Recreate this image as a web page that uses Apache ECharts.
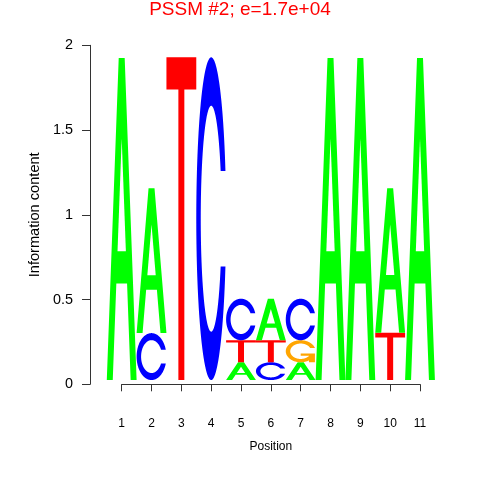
<!DOCTYPE html>
<html><head><meta charset="utf-8">
<script src="https://cdn.jsdelivr.net/npm/echarts@6/dist/echarts.min.js"></script>
<style>html,body{margin:0;padding:0;background:#fff}#c{width:480px;height:480px}</style>
</head><body><div id="c"></div>
<script>
// ---- data ----
const positions = [1, 2, 3, 4, 5, 6, 7, 8, 9, 10, 11];
// letters per position, bottom to top
const letters = [['A'], ['C', 'A'], ['T'], ['C'], ['A', 'T', 'C'], ['C', 'T', 'A'], ['A', 'G', 'C'], ['A'], ['A'], ['T', 'A'], ['A']];
// information content (bits) of each letter, bottom to top
const heights = [[1.90], [0.277, 0.854], [1.904], [1.904], [0.105, 0.13, 0.245], [0.105, 0.13, 0.245], [0.105, 0.13, 0.245], [1.90], [1.90], [0.279, 0.852], [1.90]];
const yTicks = [0, 0.5, 1, 1.5, 2];
const titleText = 'PSSM #2; e=1.7e+04';
const xName = 'Position';
const yName = 'Information content';

// ---- styles ----
const stackBase = 0.025;
const letterColors = { A: '#00FF00', C: '#0000FF', G: '#FFA500', T: '#FF0000' };
const letterCodes = ['A', 'C', 'G', 'T'];
const FONT = 'Liberation Sans, Arial, Helvetica, sans-serif';

// glyph outlines in a unit box (seqLogo style)
function cOutline() {
  const n = 60, a1 = [], a2 = [];
  for (let i = 0; i < n; i++) a1.push(0.3 + Math.PI / 2 + (Math.PI - 0.3 - Math.PI / 2) * i / (n - 1));
  for (let i = 0; i < n; i++) a2.push(Math.PI + (Math.PI / 2) * i / (n - 1));
  const xl = [], yl = [];
  a1.concat(a2).forEach(a => { xl.push(0.5 + 0.5 * Math.sin(a)); yl.push(0.5 + 0.5 * Math.cos(a)); });
  const maxYl1 = 0.5 + 0.5 * Math.cos(a1[0]);
  const xo = xl.concat(xl.slice().reverse());
  const yo = yl.concat(yl.slice().reverse().map(v => 1 - v));
  let xi1 = [], yi1 = [];
  a1.forEach(a => { const y = 0.5 + 0.35 * Math.cos(a); if (y <= maxYl1) { xi1.push(0.5 + 0.35 * Math.sin(a)); yi1.push(y); } });
  const cosv = (maxYl1 - 0.5) / 0.35;
  const aStart = Math.acos(cosv);
  xi1.unshift(0.5 + 0.35 * Math.sin(aStart)); yi1.unshift(maxYl1);
  const xi2 = [], yi2 = [];
  a2.forEach(a => { xi2.push(0.5 + 0.35 * Math.sin(a)); yi2.push(0.5 + 0.35 * Math.cos(a)); });
  const xi = xi1.concat(xi2), yi = yi1.concat(yi2);
  const x1 = xi.concat(xi.slice().reverse());
  const y1 = yi.concat(yi.slice().reverse().map(v => 1 - v));
  const xs = xo.concat(x1.slice().reverse());
  const ys = yo.concat(y1.slice().reverse());
  return { pts: xs.map((x, i) => [x, ys[i]]), r1: Math.max.apply(null, xl.slice(0, n)) };
}
const C_SHAPE = cOutline();
const GLYPHS = {
  A: [
    { pts: [[0, 0], [0.4, 1], [0.6, 1], [1, 0], [0.8, 0], [0.68, 0.3], [0.32, 0.3], [0.2, 0]], white: false },
    { pts: [[0.36, 0.4], [0.5, 0.75], [0.64, 0.4]], white: true }
  ],
  T: [{ pts: [[0, 1], [1, 1], [1, 0.9], [0.6, 0.9], [0.6, 0], [0.4, 0], [0.4, 0.9], [0, 0.9]], white: false }],
  C: [{ pts: C_SHAPE.pts, white: false }],
  G: [
    { pts: C_SHAPE.pts, white: false },
    { pts: [[C_SHAPE.r1, 0.4], [0.5, 0.4], [0.5, 0.3], [C_SHAPE.r1 - 0.2, 0.3], [C_SHAPE.r1 - 0.2, 0], [C_SHAPE.r1, 0]], white: false }
  ]
};

// build letter records [pos, y0, y1, letterIndex]
const letterData = [];
positions.forEach((p, i) => {
  let y = stackBase;
  letters[i].forEach((L, j) => {
    const h = heights[i][j];
    letterData.push([p, y, y + h, letterCodes.indexOf(L)]);
    y += h;
  });
});

const chart = echarts.init(document.getElementById('c'), null, { renderer: 'canvas' });
chart.setOption({
  animation: false,
  backgroundColor: '#fff',
  title: {
    text: titleText, left: 'center', top: 0, padding: 0,
    textStyle: { color: '#FF0000', fontSize: 19, fontWeight: 'normal', fontFamily: FONT }
  },
  grid: { left: 121.7, right: 60, top: 45.3, bottom: 95.7, containLabel: false },
  xAxis: {
    type: 'value', min: 1, max: 11, interval: 1, offset: 17.4,
    axisLine: { show: true, lineStyle: { color: '#333', width: 1 } },
    axisTick: { show: true, length: 7, lineStyle: { color: '#333' } },
    axisLabel: { fontSize: 12, color: '#000', fontFamily: FONT, margin: 16 },
    splitLine: { show: false },
    name: xName, nameLocation: 'middle', nameGap: 39,
    nameTextStyle: { fontSize: 12, color: '#000', fontFamily: FONT }
  },
  yAxis: {
    type: 'value', min: yTicks[0], max: yTicks[yTicks.length - 1], interval: yTicks[1] - yTicks[0], offset: 31.7,
    axisLine: { show: true, lineStyle: { color: '#333', width: 1 } },
    axisTick: { show: true, length: 8, lineStyle: { color: '#333' } },
    axisLabel: { fontSize: 14.4, color: '#000', fontFamily: FONT, margin: 17 },
    splitLine: { show: false },
    name: yName, nameLocation: 'middle', nameGap: 39,
    nameTextStyle: { fontSize: 14.6, color: '#000', fontFamily: FONT }
  },
  series: [{
    type: 'custom',
    clip: false,
    data: letterData,
    encode: { x: 0, y: [1, 2] },
    renderItem: function (params, api) {
      const pos = api.value(0), y0 = api.value(1), y1 = api.value(2);
      const L = letterCodes[api.value(3)];
      const children = GLYPHS[L].map(s => ({
        type: 'polygon',
        shape: { points: s.pts.map(([ux, uy]) => api.coord([pos - 0.5 + ux, y0 + (y1 - y0) * uy])) },
        style: { fill: s.white ? '#FFFFFF' : letterColors[L], stroke: null }
      }));
      return { type: 'group', children: children };
    }
  }]
});
</script>
</body></html>
